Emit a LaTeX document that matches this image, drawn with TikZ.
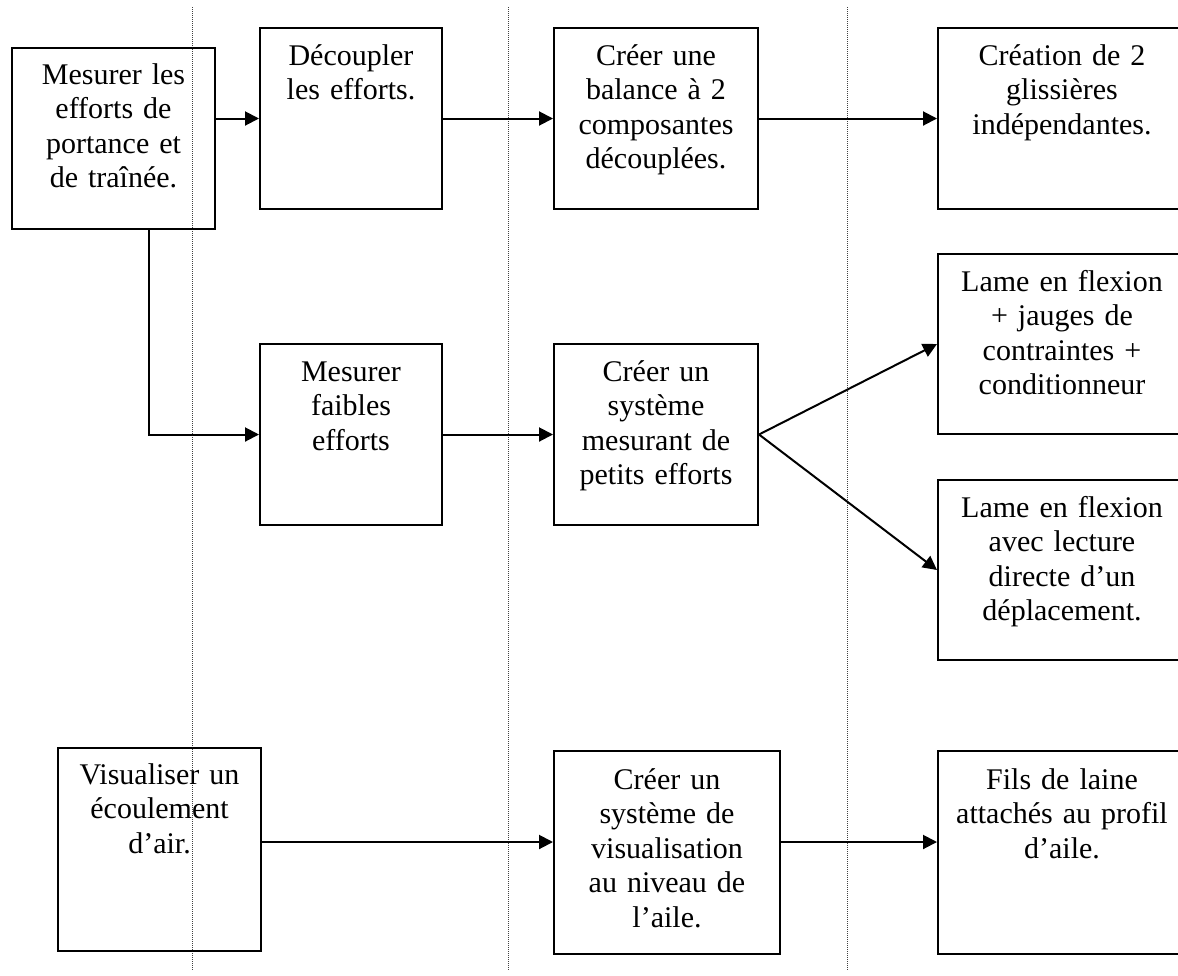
\documentclass[tikz,border=0pt]{standalone}
\usepackage{fontspec}
\setmainfont{Liberation Serif}
\usetikzlibrary{arrows.meta}

\begin{document}
\begin{tikzpicture}[x=1pt,y=-1pt,
    every node/.style={font=\fontsize{30}{34.5}\selectfont},
    etape/.style={draw, line width=2pt, inner sep=0pt, align=center, anchor=north west},
    fleche/.style={line width=2pt, -{Triangle[length=14pt,width=14pt]}},
    repere/.style={densely dotted, line width=1pt, black!75}]
  \useasboundingbox (0,0) rectangle (1178,975);
  \clip (0,0) rectangle (1178,975);

  \draw[repere] (192,7) -- (192,970);
  \draw[repere] (508,7) -- (508,970);
  \draw[repere] (847,7) -- (847,970);

  \node[etape, text width=203pt, text height=36pt, text depth=145pt] (mesurer) at (11,47)
    {Mesurer les\\efforts de\\portance et\\de traînée.};
  \node[etape, text width=182pt, text height=37pt, text depth=144pt] (decoupler) at (259,27)
    {Découpler\\les efforts.};
  \node[etape, text width=204pt, text height=37pt, text depth=144pt] (balance) at (553,27)
    {Créer une\\balance à 2\\composantes\\découplées.};
  \node[etape, text width=248pt, text height=37pt, text depth=144pt] (glissieres) at (937,27)
    {Création de 2\\glissières\\indépendantes.};
  \node[etape, text width=182pt, text height=37pt, text depth=144pt] (faibles) at (259,343)
    {Mesurer\\faibles\\efforts};
  \node[etape, text width=204pt, text height=37pt, text depth=144pt] (systeme) at (553,343)
    {Créer un\\système\\mesurant de\\petits efforts};
  \node[etape, text width=248pt, text height=37pt, text depth=143pt] (jauges) at (937,253)
    {Lame en flexion\\+ jauges de\\contraintes +\\conditionneur};
  \node[etape, text width=248pt, text height=37pt, text depth=143pt] (lecture) at (937,479)
    {Lame en flexion\\avec lecture\\directe d’un\\déplacement.};
  \node[etape, text width=203pt, text height=36pt, text depth=167pt] (visualiser) at (57,747)
    {Visualiser un\\écoulement\\d’air.};
  \node[etape, text width=226pt, text height=38pt, text depth=165pt] (visu) at (553,750)
    {Créer un\\système de\\visualisation\\au niveau de\\l’aile.};
  \node[etape, text width=248pt, text height=38pt, text depth=165pt] (laine) at (937,750)
    {Fils de laine\\attachés au profil\\d’aile.};

  \coordinate (visu-in) at ([yshift=10.5pt]visu.west);
  \coordinate (laine-in) at ([yshift=10.5pt]laine.west);

  \draw[fleche] (decoupler.west -| mesurer.east) -- (decoupler.west);
  \draw[fleche] (decoupler.east) -- (balance.west);
  \draw[fleche] (balance.east) -- (glissieres.west);
  \draw[fleche] ([xshift=35pt]mesurer.south) |- (faibles.west);
  \draw[fleche] (faibles.east) -- (systeme.west);
  \draw[fleche] (systeme.east) -- (jauges.west);
  \draw[fleche] (systeme.east) -- (lecture.west);
  \draw[fleche] (visu-in -| visualiser.east) -- (visu-in);
  \draw[fleche] (laine-in -| visu.east) -- (laine-in);
\end{tikzpicture}
\end{document}
